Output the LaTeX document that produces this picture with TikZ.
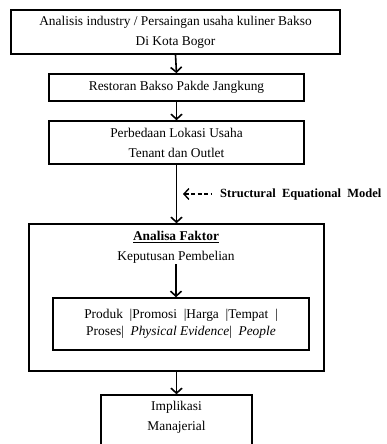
\documentclass[tikz,border=0pt]{standalone}
\usepackage{fontspec}
\setmainfont{Liberation Serif}
\usetikzlibrary{arrows.meta, positioning}

\begin{document}
\begin{tikzpicture}[x=1pt,y=-1pt,>={Straight Barb[length=5pt,width=11pt]},
    box/.style={draw, line width=1.5pt, align=center, inner sep=0pt},
    lbl/.style={align=center, inner sep=1pt, font=\fontsize{13.4}{20}\selectfont},
    flow/.style={->, line width=1.6pt}]
    \useasboundingbox (0,0) rectangle (386,444);
    % boxes
    \node[box,minimum width=329pt,minimum height=44pt,font=\fontsize{13.4}{20}\selectfont] (analisis) at (175.5,32)
        {Analisis industry / Persaingan usaha kuliner Bakso\\Di Kota Bogor};
    \node[box,minimum width=255pt,minimum height=27pt,font=\fontsize{13.4}{20}\selectfont] (restoran) at (176.5,87.5)
        {Restoran Bakso Pakde Jangkung};
    \node[box,minimum width=255pt,minimum height=43pt,font=\fontsize{13.4}{20}\selectfont] (lokasi) at (176.5,142.5)
        {Perbedaan Lokasi Usaha\\Tenant dan Outlet};
    \node[box,minimum width=295pt,minimum height=147pt] (faktor) at (176.5,297.5) {};
    \node[lbl] (judul) at (176,237) {\underline{\textbf{Analisa Faktor}}};
    \node[lbl] (keputusan) at (176,257) {Keputusan Pembelian};
    \node[box,minimum width=256pt,minimum height=52pt,font=\fontsize{13.4}{17}\selectfont] (bauran) at (181,324)
        {Produk~ |Promosi~ |Harga~ |Tempat~ |\\Proses|~ \textit{Physical Evidence}|~ \textit{People}};
    \node[box,minimum width=151pt,minimum height=70pt] (implikasi) at (176.5,430) {};
    \node[lbl] (impl) at (176.5,417) {Implikasi\\Manajerial};
    % SEM label
    \node[lbl,anchor=west,font=\bfseries\fontsize{12.5}{15}\selectfont] (sem) at (219,194) {Structural~ Equational~ Model};
    \coordinate (semtip) at (183,194);
    \coordinate (semtail) at (211,194);
    % arrows
    \draw[flow] (analisis.south) -- (restoran.north);
    \draw[flow] (restoran.south) -- (lokasi.north);
    \draw[flow] (lokasi.south) -- (faktor.north);
    \draw[<-,line width=1.4pt,dash pattern=on 4pt off 2.5pt] (semtip) -- (semtail);
    \draw[flow] (keputusan.south) -- (keputusan.south |- bauran.north);
    \draw[flow] (faktor.south) -- (implikasi.north);
\end{tikzpicture}
\end{document}
